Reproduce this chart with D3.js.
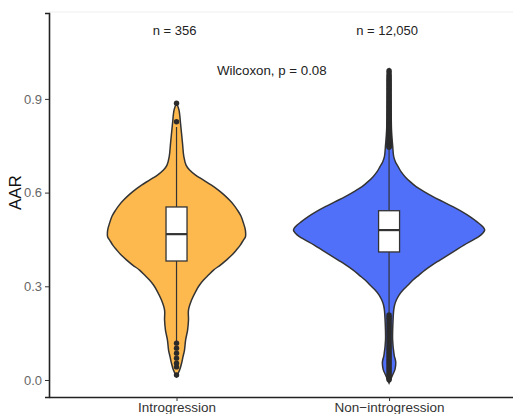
<!DOCTYPE html>
<html>
<head>
<meta charset="utf-8">
<script src="https://cdn.jsdelivr.net/npm/d3@7"></script>
<style>
  html, body { margin: 0; padding: 0; background: #fff; }
  svg { display: block; font-family: "Liberation Sans", Arial, sans-serif; }
</style>
</head>
<body>
<svg id="chart" width="513" height="414"></svg>
<script>
// ---------- data ----------
const categories = ["Introgression", "Non\u2212introgression"];
const counts = ["n = 356", "n = 12,050"];
const testLabel = "Wilcoxon, p = 0.08";
const yTicks = [0.0, 0.3, 0.6, 0.9];
const colors = ["#FDB94E", "#5170FA"];

// violin density profiles: [AAR value, density]
const densityIntro = [
  [0.886,0],[0.865,0.11],[0.822,0.18],[0.758,0.27],[0.715,0.33],[0.688,0.43],[0.672,0.59],
  [0.656,0.86],[0.640,1.22],[0.624,1.58],[0.608,1.89],[0.592,2.16],[0.576,2.39],[0.560,2.59],
  [0.544,2.75],[0.525,2.91],[0.503,3.02],[0.480,3.11],[0.458,3.11],[0.448,3.02],[0.432,2.88],
  [0.416,2.70],[0.400,2.50],[0.384,2.25],[0.368,1.98],[0.352,1.67],[0.336,1.44],[0.320,1.22],
  [0.304,1.04],[0.288,0.90],[0.256,0.68],[0.224,0.54],[0.192,0.54],[0.160,0.50],[0.128,0.41],
  [0.096,0.36],[0.074,0.29],[0.054,0.23],[0.032,0.14],[0.011,0]
];
const densityNon = [
  [0.995,0],[0.977,0.07],[0.897,0.09],[0.800,0.11],[0.752,0.16],[0.715,0.21],[0.698,0.29],
  [0.683,0.41],[0.667,0.54],[0.651,0.72],[0.635,0.95],[0.619,1.22],[0.603,1.58],[0.587,1.98],
  [0.571,2.43],[0.555,2.88],[0.539,3.29],[0.523,3.65],[0.507,3.96],[0.491,4.23],[0.480,4.32],
  [0.470,4.23],[0.459,4.05],[0.448,3.78],[0.432,3.38],[0.416,3.02],[0.400,2.66],[0.384,2.30],
  [0.368,1.94],[0.352,1.62],[0.336,1.35],[0.320,1.08],[0.304,0.86],[0.288,0.63],[0.272,0.45],
  [0.256,0.33],[0.240,0.25],[0.224,0.21],[0.192,0.18],[0.128,0.16],[0.080,0.23],[0.058,0.30],
  [0.035,0.27],[0.013,0.14],[-0.010,0]
];

// box stats: [lower whisker, q1, median, q3, upper whisker]
const boxIntro = [0.122, 0.381, 0.467, 0.554, 0.810];
const boxNon   = [0.215, 0.410, 0.480, 0.542, 0.738];

const outliersIntro = [0.886, 0.827, 0.118, 0.102, 0.086, 0.070, 0.054, 0.042, 0.016];
const outliersNon = [
  0.745,0.748,0.752,0.755,0.758,0.762,0.766,0.770,0.775,0.780,0.785,0.790,0.796,0.802,
  0.808,0.815,0.822,0.830,0.837,0.845,0.852,0.860,0.868,0.876,0.884,0.892,0.900,0.908,
  0.916,0.925,0.933,0.942,0.951,0.960,0.968,0.976,0.984,0.990,
  0.208,0.203,0.198,0.192,0.186,0.180,0.174,0.168,0.162,0.156,0.150,0.144,0.138,0.132,
  0.126,0.120,0.114,0.108,0.102,0.096,0.090,0.084,0.078,0.072,0.066,0.060,0.054,0.048,
  0.042,0.036,0.030,0.024,0.018,0.012,0.006,0.001
];

const groups = [
  { cat: categories[0], n: counts[0], color: colors[0], dens: densityIntro, box: boxIntro, out: outliersIntro },
  { cat: categories[1], n: counts[1], color: colors[1], dens: densityNon,   box: boxNon,   out: outliersNon }
];

// ---------- layout ----------
const svg = d3.select("#chart");
const mLeft = 49, mRight = 516.6, mTop = 13, mBottom = 397;

const x = d3.scalePoint().domain(categories).range([mLeft, mRight]).padding(0.6);
const y = d3.scaleLinear().domain([-0.0544, 1.175]).range([mBottom, mTop]);
const maxD = d3.max(groups, g => d3.max(g.dens, d => d[1]));
const w = d3.scaleLinear().domain([0, maxD]).range([0, 0.45 * x.step()]);

// faint top border
svg.append("line").attr("x1", mLeft).attr("x2", 513).attr("y1", mTop - 1).attr("y2", mTop - 1)
  .attr("stroke", "#efefef").attr("stroke-width", 1);

// ---------- violins ----------
groups.forEach(g => {
  const cx = x(g.cat);
  const area = d3.area()
    .y(d => y(d[0]))
    .x0(d => cx - w(d[1]))
    .x1(d => cx + w(d[1]))
    .curve(d3.curveCatmullRom.alpha(0.5));
  svg.append("path").datum(g.dens)
    .attr("d", area)
    .attr("fill", g.color)
    .attr("stroke", "#333")
    .attr("stroke-width", 1.5);
});

// ---------- boxplots ----------
const boxHalf = 10.5;
groups.forEach(g => {
  const cx = x(g.cat);
  const [lo, q1, med, q3, hi] = g.box;
  const gg = svg.append("g");
  gg.append("line").attr("x1", cx).attr("x2", cx).attr("y1", y(q3)).attr("y2", y(hi))
    .attr("stroke", "#333").attr("stroke-width", 1.2);
  gg.append("line").attr("x1", cx).attr("x2", cx).attr("y1", y(q1)).attr("y2", y(lo))
    .attr("stroke", "#333").attr("stroke-width", 1.2);
  gg.selectAll("circle").data(g.out).join("circle")
    .attr("cx", cx).attr("cy", d => y(d)).attr("r", 2.7)
    .attr("fill", "#2b2b2b");
  gg.append("rect").attr("x", cx - boxHalf).attr("width", 2 * boxHalf)
    .attr("y", y(q3)).attr("height", y(q1) - y(q3))
    .attr("fill", "#fff").attr("stroke", "#333").attr("stroke-width", 1.3);
  gg.append("line").attr("x1", cx - boxHalf).attr("x2", cx + boxHalf)
    .attr("y1", y(med)).attr("y2", y(med))
    .attr("stroke", "#333").attr("stroke-width", 2.2);
});

// ---------- axes ----------
const yAxis = svg.append("g").attr("transform", `translate(${mLeft},0)`)
  .call(d3.axisLeft(y).tickValues(yTicks).tickFormat(d3.format(".1f")).tickSize(4).tickPadding(3));
yAxis.select(".domain").attr("stroke", "#222").attr("stroke-width", 1.6);
yAxis.selectAll(".tick line").attr("stroke", "#333").attr("stroke-width", 1);
yAxis.selectAll(".tick text").attr("fill", "#666").attr("font-size", 13)
  .attr("font-family", "Liberation Sans, Arial, sans-serif");

const xAxis = svg.append("g").attr("transform", `translate(0,${mBottom})`)
  .call(d3.axisBottom(x).tickSize(4).tickPadding(1).tickSizeOuter(0));
xAxis.select(".domain").attr("stroke", "#222").attr("stroke-width", 1.6);
xAxis.selectAll(".tick line").attr("stroke", "#333").attr("stroke-width", 1);
xAxis.selectAll(".tick text").attr("fill", "#333").attr("font-size", 13.5)
  .attr("font-family", "Liberation Sans, Arial, sans-serif");

// y title
svg.append("text").attr("transform", `translate(21,${y(0.6)}) rotate(-90)`)
  .attr("text-anchor", "middle").attr("font-size", 17).attr("fill", "#111")
  .text("AAR");

// ---------- annotations ----------
groups.forEach(g => {
  svg.append("text").attr("x", x(g.cat) - 2).attr("y", 35)
    .attr("text-anchor", "middle").attr("font-size", 13).attr("fill", "#222")
    .text(g.n);
});
svg.append("text").attr("x", (x(categories[0]) + x(categories[1])) / 2 - 11).attr("y", 75)
  .attr("text-anchor", "middle").attr("font-size", 13.3).attr("fill", "#222")
  .text(testLabel);
</script>
</body>
</html>
